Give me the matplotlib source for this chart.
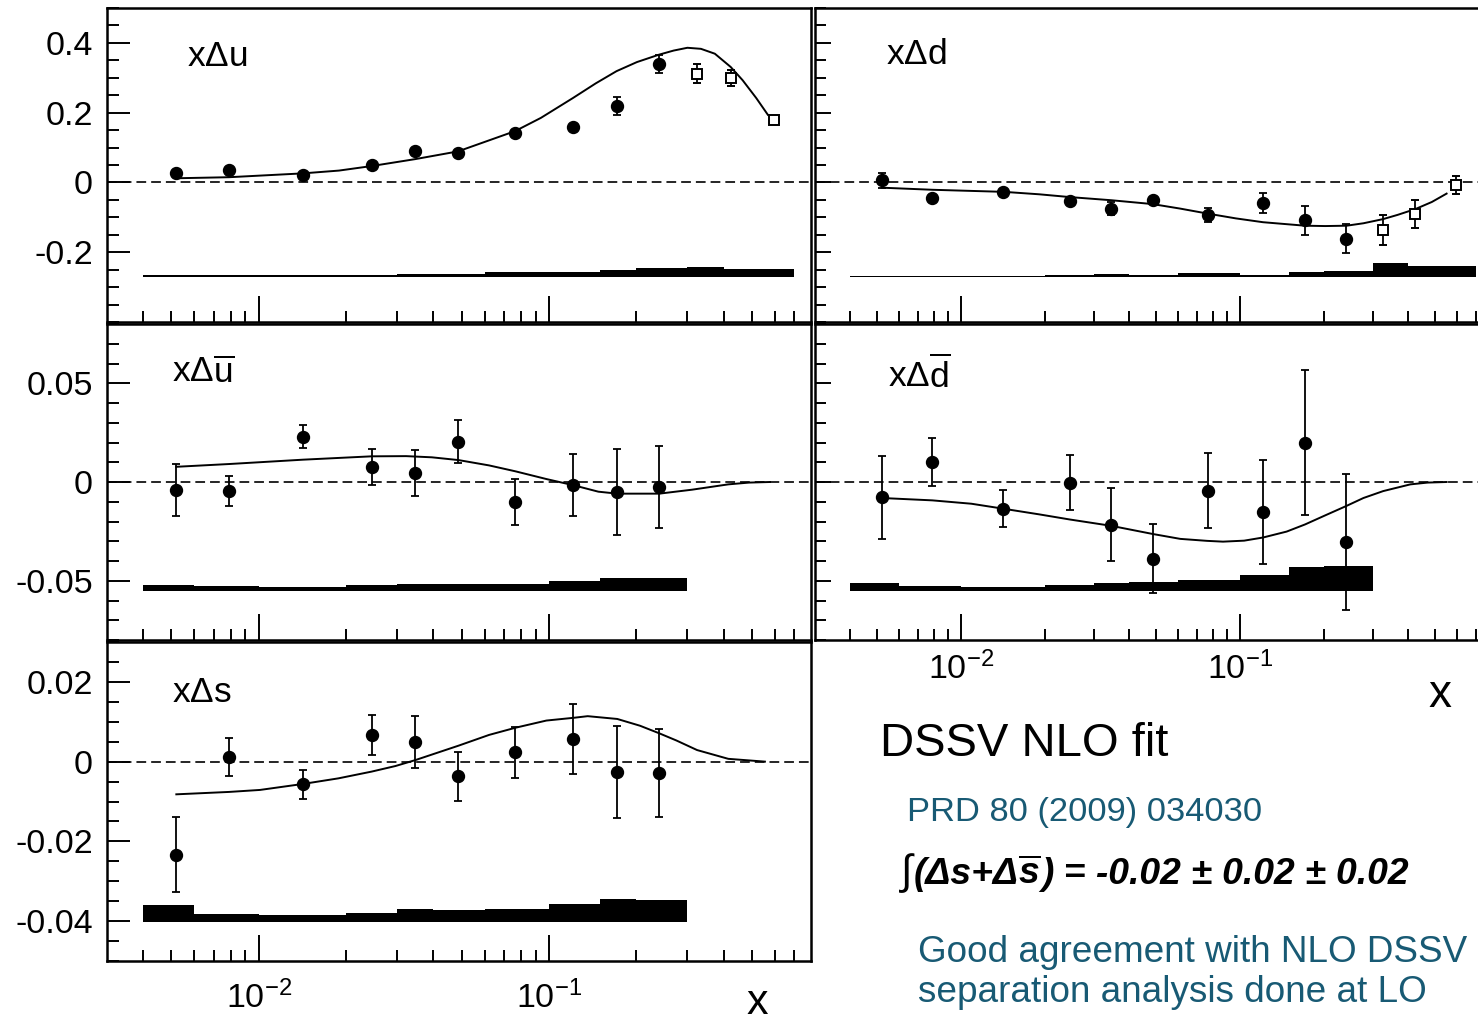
import numpy as np
import matplotlib
matplotlib.use("Agg")
import matplotlib.pyplot as plt

# ---------------------------------------------------------------- data
# x positions of the measured points (filled circles) and of the open squares
x_pts = [0.0052, 0.0079, 0.0142, 0.0245, 0.0346, 0.0487, 0.0765, 0.121, 0.171, 0.240]
x_open = [0.325, 0.425, 0.595]

u_val = [0.026, 0.036, 0.020, 0.051, 0.089, 0.084, 0.143, 0.160, 0.219, 0.340]
u_err = [0.006, 0.006, 0.008, 0.006, 0.006, 0.006, 0.006, 0.006, 0.025, 0.025]
u_open_val = [0.312, 0.299, 0.179]
u_open_err = [0.028, 0.024, 0.008]

d_val = [0.006, -0.044, -0.028, -0.054, -0.075, -0.049, -0.093, -0.058, -0.109, -0.161]
d_err = [0.021, 0.008, 0.008, 0.008, 0.019, 0.008, 0.020, 0.029, 0.042, 0.041]
d_open_val = [-0.136, -0.091, -0.007]
d_open_err = [0.043, 0.040, 0.026]

ubar_val = [-0.0040, -0.0047, 0.0229, 0.0077, 0.0047, 0.0204, -0.0101, -0.0015, -0.0049, -0.0024]
ubar_err = [0.0133, 0.0076, 0.0059, 0.0090, 0.0117, 0.0110, 0.0115, 0.0158, 0.0217, 0.0207]

dbar_val = [-0.0078, 0.0102, -0.0136, -0.0003, -0.0217, -0.0388, -0.0044, -0.0153, 0.0200, -0.0305]
dbar_err = [0.0210, 0.0120, 0.0093, 0.0138, 0.0185, 0.0176, 0.0189, 0.0263, 0.0366, 0.0344]

s_val = [-0.0233, 0.0011, -0.0057, 0.0066, 0.0049, -0.0037, 0.0023, 0.0057, -0.0026, -0.0029]
s_err = [0.0094, 0.0048, 0.0037, 0.0050, 0.0066, 0.0062, 0.0064, 0.0087, 0.0116, 0.0111]

# DSSV NLO curves
u_curve_x = [0.0052, 0.0079, 0.0142, 0.0189, 0.0245, 0.0347, 0.0486, 0.0764, 0.0938, 0.121, 0.145,
             0.171, 0.201, 0.239, 0.269, 0.300, 0.334, 0.373, 0.423, 0.465, 0.518, 0.568]
u_curve_y = [0.012, 0.015, 0.026, 0.034, 0.047, 0.067, 0.089, 0.147, 0.185, 0.242, 0.284,
             0.319, 0.345, 0.366, 0.378, 0.386, 0.383, 0.369, 0.331, 0.293, 0.242, 0.194]

d_curve_x = [0.0052, 0.0079, 0.0143, 0.0191, 0.0246, 0.0346, 0.0486, 0.0611, 0.0762, 0.0966, 0.121,
             0.171, 0.202, 0.241, 0.277, 0.326, 0.367, 0.426, 0.487, 0.550]
d_curve_y = [-0.015, -0.021, -0.027, -0.034, -0.042, -0.051, -0.062, -0.075, -0.089, -0.103, -0.114,
             -0.124, -0.125, -0.124, -0.117, -0.105, -0.093, -0.076, -0.056, -0.032]

ubar_curve_x = [0.0052, 0.0079, 0.0142, 0.0245, 0.0322, 0.0395, 0.0488, 0.0622, 0.0767, 0.098,
                0.122, 0.148, 0.172, 0.240, 0.311, 0.415, 0.489, 0.578]
ubar_curve_y = [0.0077, 0.0091, 0.0113, 0.0130, 0.0131, 0.0125, 0.0111, 0.0084, 0.0054, 0.0015,
                -0.0017, -0.0049, -0.0059, -0.0059, -0.0039, -0.0012, -0.0003, 0.0]

dbar_curve_x = [0.0052, 0.0079, 0.0109, 0.0143, 0.0191, 0.0246, 0.0346, 0.0486, 0.0611, 0.0762,
                0.0869, 0.1035, 0.121, 0.147, 0.171, 0.202, 0.240, 0.277, 0.326, 0.408, 0.470, 0.550]
dbar_curve_y = [-0.0081, -0.0093, -0.0110, -0.0136, -0.0164, -0.0190, -0.0222, -0.0263, -0.0288,
                -0.0298, -0.0302, -0.0297, -0.0281, -0.0251, -0.0215, -0.0169, -0.0122, -0.0081,
                -0.0046, -0.0012, -0.0003, 0.0]

s_curve_x = [0.0052, 0.0079, 0.0101, 0.0142, 0.0188, 0.0245, 0.0296, 0.0347, 0.0488, 0.0622, 0.0767,
             0.098, 0.122, 0.136, 0.172, 0.206, 0.240, 0.275, 0.324, 0.415, 0.555]
s_curve_y = [-0.0082, -0.0076, -0.0071, -0.0056, -0.0042, -0.0025, -0.0011, 0.0004, 0.0040, 0.0067,
             0.0085, 0.0103, 0.0110, 0.0114, 0.0107, 0.0090, 0.0071, 0.0053, 0.0029, 0.0007, 0.0]

# systematic-uncertainty bands (bin edges, band floor, band heights)
band_edges = [0.004, 0.006, 0.01, 0.02, 0.03, 0.04, 0.06, 0.1, 0.15, 0.2, 0.3, 0.4, 0.7]
u_band_base, u_band = -0.272, [0.0057, 0.0057, 0.0057, 0.0075, 0.0094, 0.0094, 0.014, 0.014, 0.020, 0.027, 0.029, 0.025]
d_band_base, d_band = -0.272, [0.005, 0.005, 0.005, 0.0066, 0.0094, 0.0066, 0.012, 0.0075, 0.014, 0.018, 0.042, 0.033]
ubar_band_base, ubar_band = -0.0553, [0.0029, 0.0024, 0.0020, 0.0029, 0.0035, 0.0035, 0.0039, 0.0052, 0.0069, 0.0069]
dbar_band_base, dbar_band = -0.0551, [0.0039, 0.0022, 0.0017, 0.0032, 0.0042, 0.0047, 0.0054, 0.0080, 0.0119, 0.0124]
s_band_base, s_band = -0.0402, [0.0043, 0.0020, 0.0017, 0.0023, 0.0033, 0.0029, 0.0033, 0.0044, 0.0058, 0.0054]

# axis ticks
x_major = [0.01, 0.1]
x_major_labels = [r'$10^{-2}$', r'$10^{-1}$']
x_minor = [k * 10.0 ** e for e in (-3, -2, -1) for k in range(2, 10) if 0.003 < k * 10.0 ** e < 0.8]

# ---------------------------------------------------------------- style
plt.rcParams.update({
    'font.family': ['Liberation Sans', 'DejaVu Sans'],
    'mathtext.fontset': 'custom',
    'mathtext.rm': 'Liberation Sans',
    'mathtext.it': 'Liberation Sans:italic',
    'mathtext.bf': 'Liberation Sans:bold',
    'mathtext.bfit': 'Liberation Sans:bold:italic',
    'axes.unicode_minus': False,
    'lines.scale_dashes': False,
})

W, H = 1478, 1025
fig = plt.figure(figsize=(W / 100, H / 100), dpi=100)
fig.patch.set_facecolor('white')


def rect(l, t, r, b):
    return [l / W, 1 - b / H, (r - l) / W, (b - t) / H]


def fx(px):
    return px / W


def fy(py):
    return 1 - py / H


TEAL = '#185a74'
TICK_FS = 24.5


def panel(box, ylim, yticks, ylabels, yminor, left_side=True, xlabels=False, xpad=8):
    ax = fig.add_axes(rect(*box))
    ax.set_xscale('log')
    ax.set_xlim(0.003, 0.8)
    ax.set_ylim(*ylim)
    ax.set_xticks(x_major)
    ax.set_xticks(x_minor, minor=True)
    if xlabels:
        ax.set_xticklabels(x_major_labels, fontsize=TICK_FS)
    else:
        ax.set_xticklabels([])
    ax.set_xticklabels([], minor=True)
    ax.set_yticks(yticks)
    ax.set_yticks(yminor, minor=True)
    if left_side:
        ax.set_yticklabels(ylabels, fontsize=TICK_FS)
        ymaj, ymin = 16.5, 8.6
    else:
        ax.set_yticklabels([])
        ymaj, ymin = 11.5, 8.0
    ax.tick_params(axis='x', which='both', direction='in', top=False, bottom=True,
                   width=1.4, pad=xpad)
    ax.tick_params(axis='x', which='major', length=18.7)
    ax.tick_params(axis='x', which='minor', length=8.0)
    ax.tick_params(axis='y', which='both', direction='in', left=True, right=False,
                   width=1.4, pad=10)
    ax.tick_params(axis='y', which='major', length=ymaj)
    ax.tick_params(axis='y', which='minor', length=ymin)
    for sp in ax.spines.values():
        sp.set_linewidth(1.8)
    ax.axhline(0, color='k', lw=1.2, ls=(0, (7.0, 3.6)), zorder=1)
    return ax


def draw_band(ax, base, heights):
    n = len(heights)
    edges = np.asarray(band_edges[:n + 1])
    ax.bar(edges[:-1], heights, width=np.diff(edges), bottom=base, align='edge',
           color='k', linewidth=0, zorder=2)


def draw_points(ax, x, y, e, open_marker=False):
    if open_marker:
        ax.errorbar(x, y, yerr=e, fmt='s', color='k', mfc='white', mec='k', ms=7.5, mew=1.4,
                    elinewidth=1.3, capsize=3.2, capthick=1.3, zorder=4)
    else:
        ax.errorbar(x, y, yerr=e, fmt='o', color='k', ms=8.6,
                    elinewidth=1.3, capsize=3.2, capthick=1.3, zorder=4)


def draw_curve(ax, x, y):
    ax.plot(x, y, color='k', lw=1.4, zorder=3)


# ---------------------------------------------------------------- x Delta u
ax_u = panel((107, 8, 811, 322), (-0.4, 0.5), [-0.2, 0, 0.2, 0.4], ['-0.2', '0', '0.2', '0.4'],
             np.arange(-0.4, 0.5001, 0.05))
draw_band(ax_u, u_band_base, u_band)
draw_curve(ax_u, u_curve_x, u_curve_y)
draw_points(ax_u, x_pts, u_val, u_err)
draw_points(ax_u, x_open, u_open_val, u_open_err, open_marker=True)

# ---------------------------------------------------------------- x Delta d
ax_d = panel((815, 8, 1492, 322), (-0.4, 0.5), [-0.2, 0, 0.2, 0.4], None,
             np.arange(-0.4, 0.5001, 0.05), left_side=False)
draw_band(ax_d, d_band_base, d_band)
draw_curve(ax_d, d_curve_x, d_curve_y)
draw_points(ax_d, x_pts, d_val, d_err)
draw_points(ax_d, x_open, d_open_val, d_open_err, open_marker=True)

# ---------------------------------------------------------------- x Delta ubar
ax_ub = panel((107, 324, 811, 640), (-0.08, 0.08), [-0.05, 0, 0.05], ['-0.05', '0', '0.05'],
              np.arange(-0.08, 0.0801, 0.01))
draw_band(ax_ub, ubar_band_base, ubar_band)
draw_curve(ax_ub, ubar_curve_x, ubar_curve_y)
draw_points(ax_ub, x_pts, ubar_val, ubar_err)

# ---------------------------------------------------------------- x Delta dbar
ax_db = panel((815, 324, 1492, 640), (-0.08, 0.08), [-0.05, 0, 0.05], None,
              np.arange(-0.08, 0.0801, 0.01), left_side=False, xlabels=True, xpad=8)
draw_band(ax_db, dbar_band_base, dbar_band)
draw_curve(ax_db, dbar_curve_x, dbar_curve_y)
draw_points(ax_db, x_pts, dbar_val, dbar_err)

# ---------------------------------------------------------------- x Delta s
ax_s = panel((107, 642, 811, 961), (-0.05, 0.03), [-0.04, -0.02, 0, 0.02],
             ['-0.04', '-0.02', '0', '0.02'], np.arange(-0.05, 0.0301, 0.005),
             xlabels=True, xpad=14.4)
draw_band(ax_s, s_band_base, s_band)
draw_curve(ax_s, s_curve_x, s_curve_y)
draw_points(ax_s, x_pts, s_val, s_err)

# ---------------------------------------------------------------- panel names
LAB_FS = 25.5
for (px, py), label in [((187, 66), r'$\mathrm{x\Delta u}$'),
                        ((886, 64), r'$\mathrm{x\Delta d}$'),
                        ((172, 383), r'$\mathrm{x\Delta\overline{u}}$'),
                        ((888, 388), r'$\mathrm{x\Delta\overline{d}}$'),
                        ((172, 702), r'$\mathrm{x\Delta s}$')]:
    fig.text(fx(px), fy(py), label, fontsize=LAB_FS, ha='left', va='baseline')

# axis titles
fig.text(fx(757), fy(1014), 'x', fontsize=31, ha='center', va='baseline')
fig.text(fx(1440), fy(707), 'x', fontsize=33, ha='center', va='baseline')

# ---------------------------------------------------------------- notes
fig.text(fx(880), fy(756), 'DSSV NLO fit', fontsize=34, ha='left', va='baseline')
fig.text(fx(907), fy(821), 'PRD 80 (2009) 034030', fontsize=24.8, color=TEAL,
         ha='left', va='baseline')
fig.text(fx(918), fy(962), 'Good agreement with NLO DSSV', fontsize=26.6, color=TEAL,
         ha='left', va='baseline')
fig.text(fx(918), fy(1002), 'separation analysis done at LO', fontsize=26.6, color=TEAL,
         ha='left', va='baseline')

# integral line, assembled piece by piece along a common baseline
renderer = fig.canvas.get_renderer()
base_y = fy(884)
cur_x = fx(901)
INT_FS = 26.8
pieces = [('\u222b', dict(fontsize=30), 1.0),
          ('(\u0394s+\u0394', dict(fontsize=INT_FS, fontweight='bold', style='italic'), 0.0),
          (r'$\overline{\mathbfit{s}}$', dict(fontsize=INT_FS), 0.5),
          (') = -0.02 \u00b1 0.02 \u00b1 0.02', dict(fontsize=INT_FS, fontweight='bold', style='italic'), 0.0)]
for txt, kw, gap in pieces:
    t = fig.text(cur_x, base_y, txt, ha='left', va='baseline', **kw)
    bb = t.get_window_extent(renderer)
    cur_x = fig.transFigure.inverted().transform((bb.x1 + gap, 0))[0]

fig.savefig('out.png', dpi=100, facecolor='white')
